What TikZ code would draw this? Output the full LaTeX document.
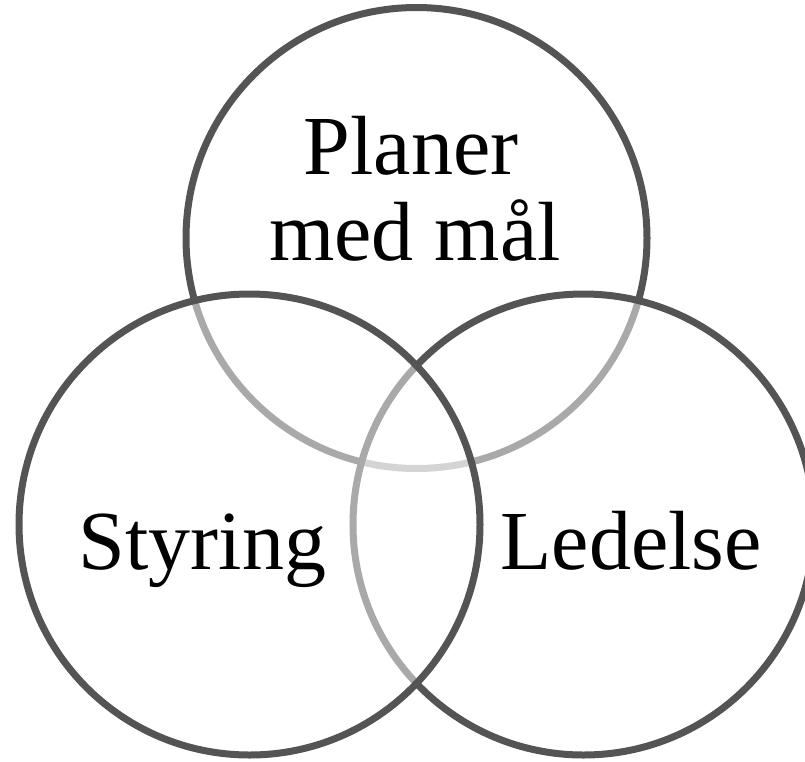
\documentclass[tikz,border=0pt]{standalone}
\usepackage{fontspec}
\setmainfont{Liberation Serif}
\definecolor{ringgray}{RGB}{84,84,84}
\tikzset{
  venn/.style={draw=ringgray, line width=7pt, fill=white, fill opacity=0.5, draw opacity=1},
  label/.style={font=\fontsize{84}{86}\selectfont, text=black, inner sep=0pt, anchor=base}
}
\begin{document}
\begin{tikzpicture}[x=1pt,y=-1pt]
\useasboundingbox (0,0) rectangle (805,761);
\clip (0,0) rectangle (805,761);
\coordinate (ctop) at (416.5,238);
\coordinate (cright) at (583.5,524.5);
\coordinate (cleft) at (249.5,524.5);
\draw[venn] (ctop) circle[radius=230.5];
\draw[venn] (cright) circle[radius=230.5];
\draw[venn] (cleft) circle[radius=230.5];
\node[label] (plan1) at (411,174) {Planer};
\node[label] (plan2) at (415,260) {med mål};
\node[label] (styr) at (202.5,569) {Styring};
\node[label] (led) at (631,569) {Ledelse};
\end{tikzpicture}
\end{document}
